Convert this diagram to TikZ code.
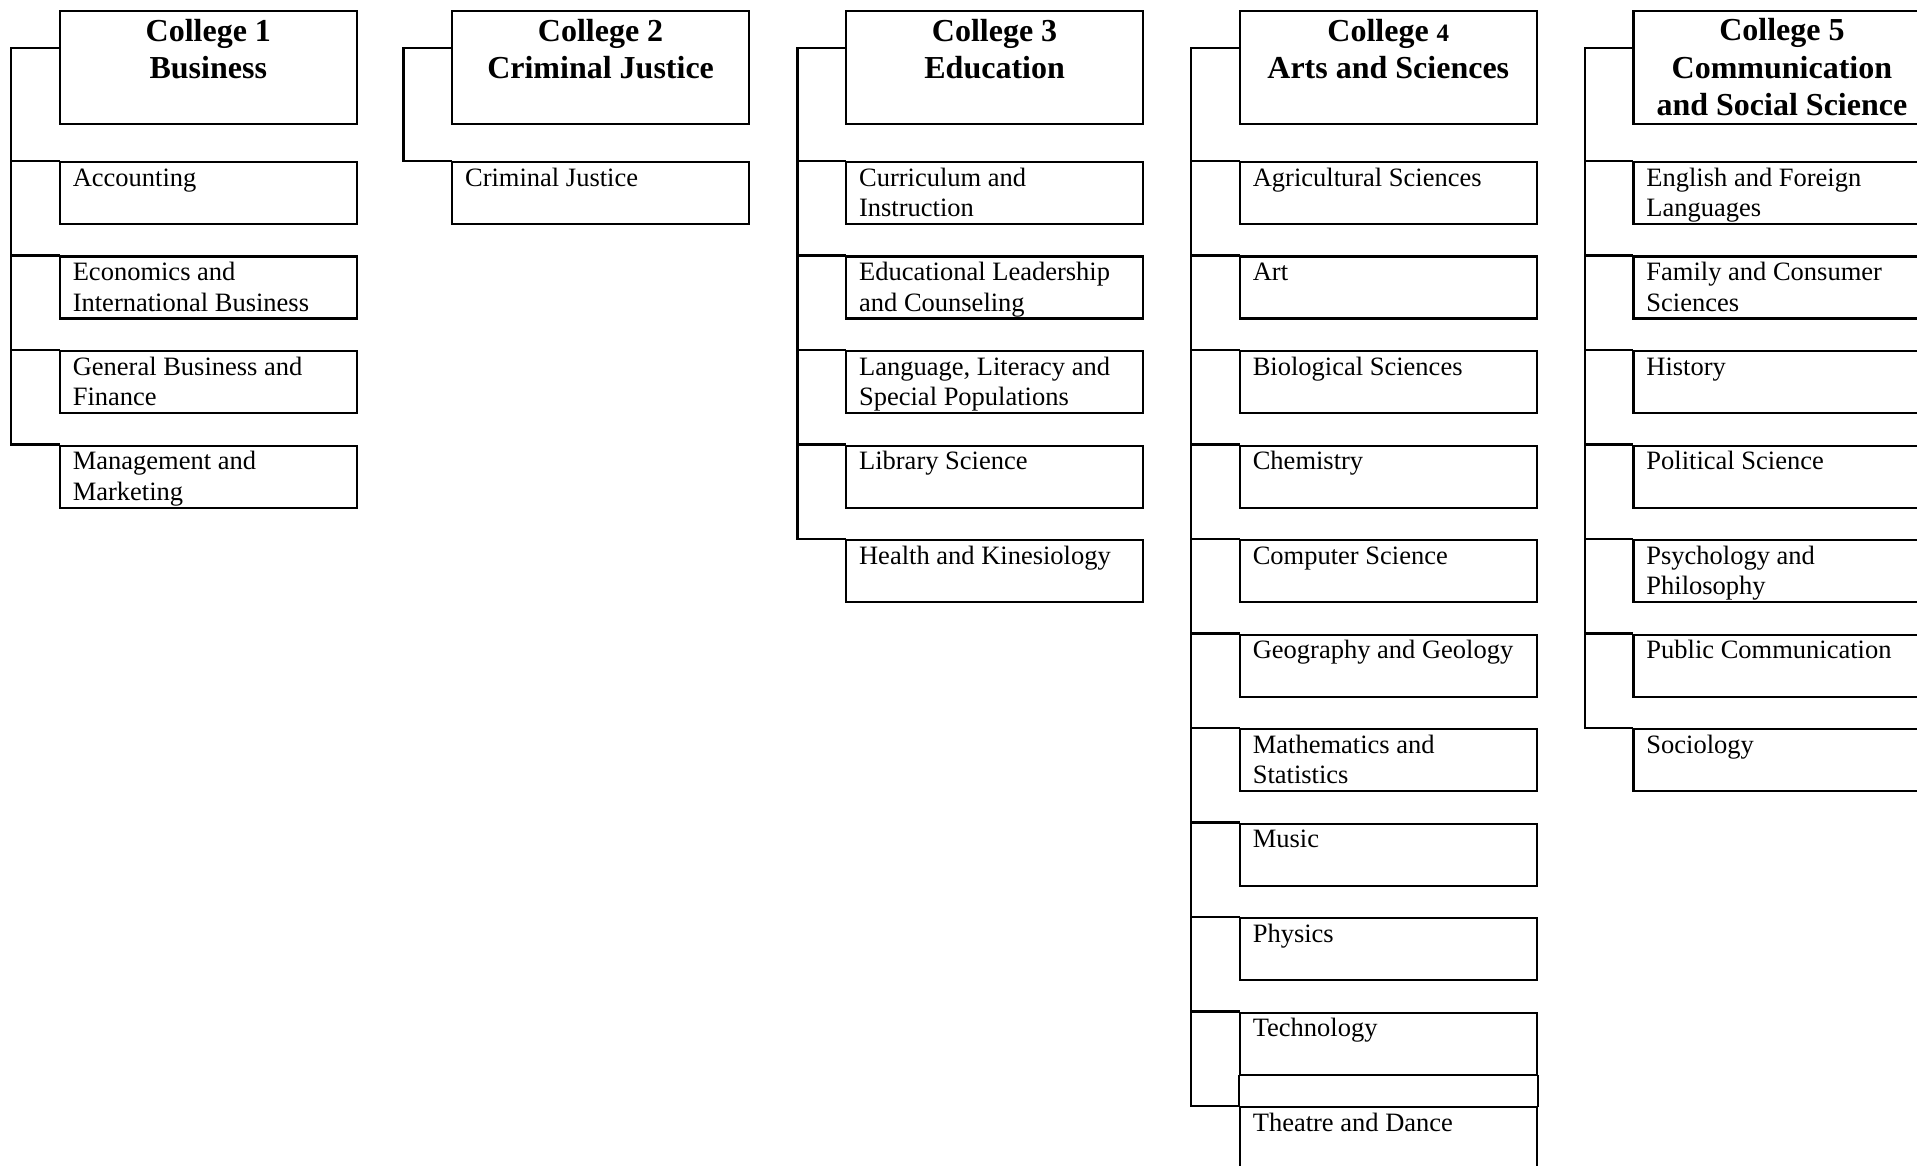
\documentclass[tikz,border=0pt]{standalone}
\usepackage{fontspec}
\setmainfont{Liberation Serif}
\newcommand\hfont{\fontsize{32}{37.5}\selectfont\bfseries}
\newcommand\ufont{\fontsize{26.5}{30.5}\selectfont}
\newcommand\htext[2][26]{\parbox[c][104.7pt][t]{289pt}{\centering\rule{0pt}{#1pt}#2}}
\newcommand\utext[1]{\parbox[c][54pt][t]{271pt}{\raggedright\rule{0pt}{20pt}#1}}
\tikzset{
  hdr/.style={draw, line width=2.2pt, rectangle, anchor=north west, inner xsep=4pt, inner ysep=4pt, font=\hfont},
  unit/.style={draw, line width=2.2pt, rectangle, anchor=north west, inner xsep=13pt, inner ysep=4pt, font=\ufont},
  link/.style={line width=2.2pt, line cap=rect}
}
\begin{document}
\begin{tikzpicture}[x=1pt,y=-1pt]
\clip (0,0) rectangle (1917,1166);
\fill[white] (0,0) rectangle (1917,1166);
% ---------------- College 1
\node[hdr] (h1) at (58.7,10) {\htext{College 1\\Business}};
\node[unit] (u1a) at (58.7,161) {\utext{Accounting}};
\node[unit] (u1b) at (58.7,255.5) {\utext{Economics and\\International Business}};
\node[unit] (u1c) at (58.7,350) {\utext{General Business and\\Finance}};
\node[unit] (u1d) at (58.7,444.5) {\utext{Management and\\Marketing}};
\coordinate (v1) at (11.2,48);
\draw[link] (h1.north west |- v1) -- (v1) |- (u1d.north west);
\foreach \k in {a,b,c} \draw[link] (v1 |- u1\k.north west) -- (u1\k.north west);
% ---------------- College 2
\node[hdr] (h2) at (451,10) {\htext{College 2\\Criminal Justice}};
\node[unit] (u2a) at (451,161) {\utext{Criminal Justice}};
\coordinate (v2) at (403.5,48);
\draw[link] (h2.north west |- v2) -- (v2) |- (u2a.north west);
% ---------------- College 3
\node[hdr] (h3) at (845,10) {\htext{College 3\\Education}};
\node[unit] (u3a) at (845,161) {\utext{Curriculum and\\Instruction}};
\node[unit] (u3b) at (845,255.5) {\utext{Educational Leadership\\and Counseling}};
\node[unit] (u3c) at (845,350) {\utext{Language, Literacy and\\Special Populations}};
\node[unit] (u3d) at (845,444.5) {\utext{Library Science}};
\node[unit] (u3e) at (845,539) {\utext{Health and Kinesiology}};
\coordinate (v3) at (797.5,48);
\draw[link] (h3.north west |- v3) -- (v3) |- (u3e.north west);
\foreach \k in {a,b,c,d} \draw[link] (v3 |- u3\k.north west) -- (u3\k.north west);
% ---------------- College 4
\node[hdr] (h4) at (1238.7,10) {\htext{College {\fontsize{25}{30}\selectfont 4}\\Arts and Sciences}};
\node[unit] (u4a) at (1238.7,161) {\utext{Agricultural Sciences}};
\node[unit] (u4b) at (1238.7,255.5) {\utext{Art}};
\node[unit] (u4c) at (1238.7,350) {\utext{Biological Sciences}};
\node[unit] (u4d) at (1238.7,444.5) {\utext{Chemistry}};
\node[unit] (u4e) at (1238.7,539) {\utext{Computer Science}};
\node[unit] (u4f) at (1238.7,633.5) {\utext{Geography and Geology}};
\node[unit] (u4g) at (1238.7,728) {\utext{Mathematics and\\Statistics}};
\node[unit] (u4h) at (1238.7,822.5) {\utext{Music}};
\node[unit] (u4i) at (1238.7,917) {\utext{Physics}};
\node[unit] (u4j) at (1238.7,1011.5) {\utext{Technology}};
\node[unit] (u4k) at (1238.7,1106) {\utext{Theatre and Dance}};
\coordinate (v4) at (1191.2,48);
\draw[link] (h4.north west |- v4) -- (v4) |- (u4k.north west);
\foreach \k in {a,b,c,d,e,f,g,h,i,j} \draw[link] (v4 |- u4\k.north west) -- (u4\k.north west);
\draw[link] (u4j.south west) -- (u4k.north west);
\draw[link] (u4j.south east) -- (u4k.north east);
% ---------------- College 5
\node[hdr] (h5) at (1632.3,10) {\htext[25.5]{College 5\\Communication\\and Social Science}};
\node[unit] (u5a) at (1632.3,161) {\utext{English and Foreign\\Languages}};
\node[unit] (u5b) at (1632.3,255.5) {\utext{Family and Consumer\\Sciences}};
\node[unit] (u5c) at (1632.3,350) {\utext{History}};
\node[unit] (u5d) at (1632.3,444.5) {\utext{Political Science}};
\node[unit] (u5e) at (1632.3,539) {\utext{Psychology and\\Philosophy}};
\node[unit] (u5f) at (1632.3,633.5) {\utext{Public Communication}};
\node[unit] (u5g) at (1632.3,728) {\utext{Sociology}};
\coordinate (v5) at (1584.8,48);
\draw[link] (h5.north west |- v5) -- (v5) |- (u5g.north west);
\foreach \k in {a,b,c,d,e,f} \draw[link] (v5 |- u5\k.north west) -- (u5\k.north west);
\end{tikzpicture}
\end{document}
